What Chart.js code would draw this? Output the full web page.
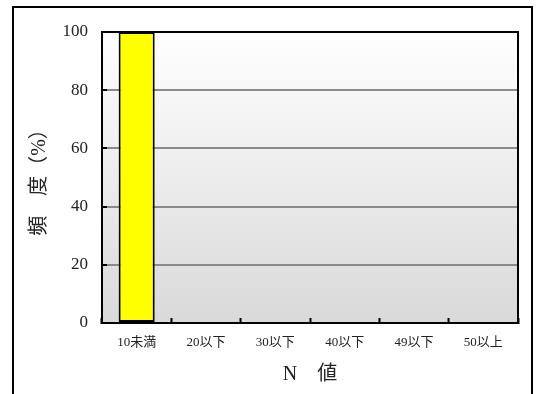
<!DOCTYPE html>
<html>
<head>
<meta charset="utf-8">
<script src="https://cdn.jsdelivr.net/npm/chart.js@4"></script>
<style>
  body { margin: 0; background: #fff; }
  #wrap { position: relative; width: 537px; height: 394px; }
</style>
</head>
<body>
<div id="wrap"><canvas id="freqChart"></canvas></div>
<script>
const categories = ['10未満', '20以下', '30以下', '40以下', '49以下', '50以上']
const freqValues = [100, 0, 0, 0, 0, 0]
const yTicks = [0, 20, 40, 60, 80, 100]

const serif = "'Liberation Serif', 'Noto Sans CJK JP', serif"

// gradient behind the plot, plus the frame lines the axes don't give us
const framePlugin = {
  id: 'frame',
  beforeDraw(chart) {
    const { ctx, chartArea: a } = chart
    const g = ctx.createLinearGradient(0, a.top, 0, a.bottom)
    g.addColorStop(0, '#ffffff')
    g.addColorStop(1, '#d9d9d9')
    ctx.save()
    ctx.fillStyle = g
    ctx.fillRect(a.left, a.top, a.right - a.left, a.bottom - a.top)
    ctx.restore()
  },
  afterDraw(chart) {
    const { ctx, chartArea: a } = chart
    ctx.save()
    ctx.strokeStyle = '#000'
    ctx.lineWidth = 2
    ctx.beginPath()
    ctx.moveTo(a.left, a.top)
    ctx.lineTo(a.right, a.top)
    ctx.lineTo(a.right, a.bottom)
    ctx.stroke()
    ctx.strokeRect(13, 7, 519, 400)
    ctx.restore()
  }
}

const data = {
  labels: categories,
  datasets: [{
    data: freqValues,
    backgroundColor: '#ffff00',
    borderColor: '#000',
    borderWidth: 2,
    borderSkipped: false,
    categoryPercentage: 1,
    barPercentage: 0.52
  }]
}

const config = {
  type: 'bar',
  data: data,
  options: {
    responsive: true,
    maintainAspectRatio: false,
    animation: false,
    layout: { padding: { top: 32, right: 19, left: 0, bottom: 0 } },
    plugins: { legend: { display: false }, tooltip: { enabled: false } },
    scales: {
      x: {
        afterFit: s => { s.height = 71 },
        grid: { drawOnChartArea: false, tickLength: -5, tickColor: '#000', tickWidth: 2 },
        border: { color: '#000', width: 2 },
        ticks: { color: '#222', font: { family: serif, size: 13 }, padding: 17, maxRotation: 0 },
        title: { display: true, text: 'N　値', color: '#222', font: { family: serif, size: 20 }, padding: { top: 0, bottom: 7 } }
      },
      y: {
        min: 0,
        max: 100,
        afterFit: s => { s.width = 102 },
        afterBuildTicks: s => { s.ticks = yTicks.map(v => ({ value: v })) },
        grid: { color: '#8a8a8a', lineWidth: 2, tickLength: -5, tickColor: '#000', tickWidth: 2 },
        border: { color: '#000', width: 2 },
        ticks: { color: '#222', font: { family: serif, size: 17 }, padding: 19 },
        title: { display: true, text: '頻　度（%）', color: '#222', font: { family: serif, size: 20 }, padding: { top: 28, bottom: 0 } }
      }
    }
  },
  plugins: [framePlugin]
}

const freqChart = new Chart(document.getElementById('freqChart'), config)
</script>
</body>
</html>
